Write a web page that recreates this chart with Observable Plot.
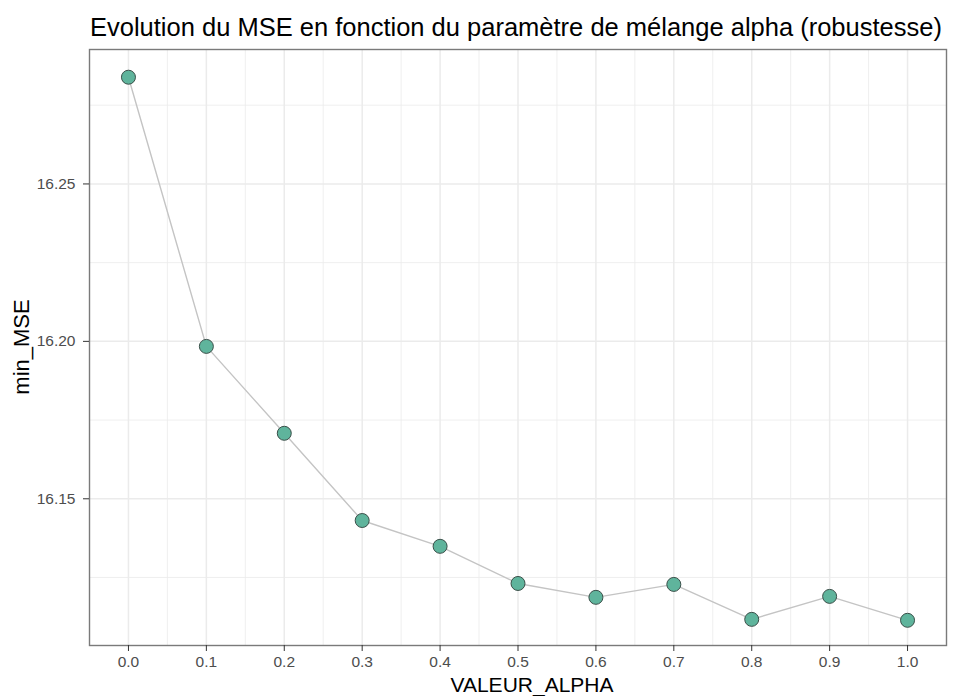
<!DOCTYPE html>
<html>
<head>
<meta charset="utf-8">
<script src="https://cdn.jsdelivr.net/npm/d3@7"></script>
<script src="https://cdn.jsdelivr.net/npm/@observablehq/plot@0.6"></script>
<style>
  html, body { margin: 0; padding: 0; background: #fff; }
  #wrap { position: relative; width: 962px; height: 696px; overflow: hidden; font-family: "Liberation Sans", Arial, sans-serif; }
  #title { position: absolute; left: 90px; top: 12px; font-size: 25.5px; line-height: 30px; color: #000; white-space: nowrap; z-index: 2; }
  #ylabel { position: absolute; left: 22px; top: 347px; font-size: 22px; line-height: 24px; color: #000; white-space: nowrap; transform: translate(-50%, -50%) rotate(-90deg); z-index: 2; }
  #chart { position: absolute; left: 0; top: 48px; z-index: 1; }
</style>
</head>
<body>
<div id="wrap">
  <div id="chart"></div>
  <div id="title">Evolution du MSE en fonction du paramètre de mélange alpha (robustesse)</div>
  <div id="ylabel"></div>
</div>
<script>
const alphaValues = [0.0, 0.1, 0.2, 0.3, 0.4, 0.5, 0.6, 0.7, 0.8, 0.9, 1.0];
const minMSE = [16.2839, 16.1984, 16.1708, 16.1431, 16.1349, 16.1231, 16.1187, 16.1228, 16.1117, 16.1190, 16.1114];
const xTicks = [0.0, 0.1, 0.2, 0.3, 0.4, 0.5, 0.6, 0.7, 0.8, 0.9, 1.0];
const xMinor = [0.05, 0.15, 0.25, 0.35, 0.45, 0.55, 0.65, 0.75, 0.85, 0.95];
const yTicks = [16.15, 16.20, 16.25];
const yMinor = [16.125, 16.175, 16.225, 16.275];
const xLabel = "VALEUR_ALPHA";
const yLabel = "min_MSE";

document.getElementById("ylabel").textContent = yLabel;

const data = alphaValues.map((a, i) => ({alpha: a, mse: minMSE[i]}));

const font = "'Liberation Sans', Arial, sans-serif";
const chart = Plot.plot({
  width: 962,
  height: 648,
  marginLeft: 89,
  marginRight: 16,
  marginTop: 1,
  marginBottom: 51,
  style: {fontFamily: font, background: "transparent", overflow: "visible"},
  x: {domain: [-0.05, 1.05]},
  y: {domain: [16.1034, 16.2927]},
  marks: [
    Plot.gridX(xMinor, {stroke: "#ebebeb", strokeOpacity: 1, strokeWidth: 0.8}),
    Plot.gridY(yMinor, {stroke: "#ebebeb", strokeOpacity: 1, strokeWidth: 0.8}),
    Plot.gridX(xTicks, {stroke: "#ebebeb", strokeOpacity: 1, strokeWidth: 1.5}),
    Plot.gridY(yTicks, {stroke: "#ebebeb", strokeOpacity: 1, strokeWidth: 1.5}),
    Plot.frame({stroke: "#7a7a7a", strokeWidth: 1.4}),
    Plot.axisX(xTicks, {tickFormat: d => d.toFixed(1), tickSize: 6, tickPadding: 4, fontSize: 15.5, color: "#4d4d4d", stroke: "#333", label: null}),
    Plot.axisY(yTicks, {tickFormat: d => d.toFixed(2), tickSize: 6, tickPadding: 8, fontSize: 15.5, color: "#4d4d4d", stroke: "#333", label: null}),
    Plot.line(data, {x: "alpha", y: "mse", stroke: "#c4c4c4", strokeWidth: 1.4}),
    Plot.dot(data, {x: "alpha", y: "mse", r: 7, fill: "#5fb49c", stroke: "#3b4f49", strokeWidth: 1}),
    Plot.text([xLabel], {text: d => d, frameAnchor: "bottom", dy: 46, dx: 14, fontSize: 21, fill: "#000", lineAnchor: "bottom"})
  ]
});
document.getElementById("chart").appendChild(chart);
</script>
</body>
</html>
